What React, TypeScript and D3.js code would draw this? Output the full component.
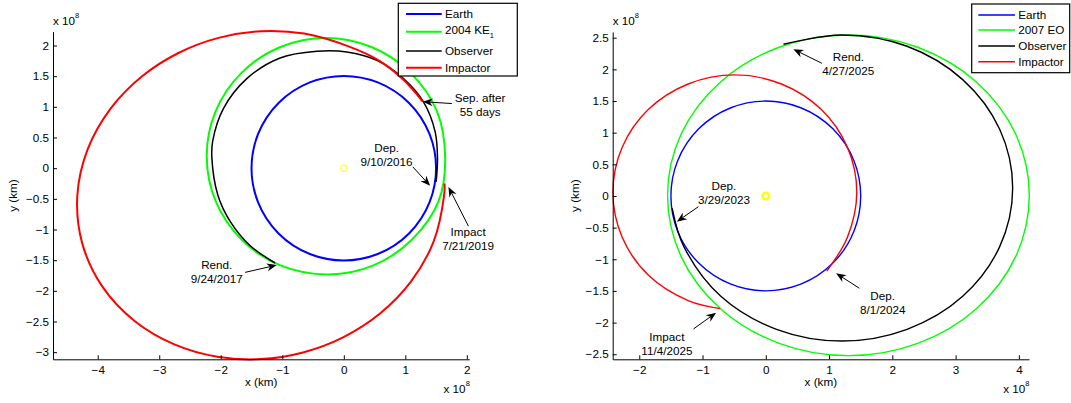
import React, { useEffect, useRef } from 'react';
import * as d3 from 'd3';

type Pt = [number, number];

const FONT = '"Liberation Sans", Arial, Helvetica, sans-serif';
const FS = 11.7;

// all coordinates in units of 1e8 km
const earthRadius = 1.5;
const sun: Pt = [0, 0];

// ---- left panel: 2004 KE1 ----
const ke1Orbit: Pt[] = [
  [1.648, 0.157], [1.512, 0.934], [1.079, 1.558], [0.45, 1.976], [-0.293, 2.123],
  [-1.03, 1.976], [-1.659, 1.558], [-2.081, 0.934], [-2.228, 0.195], [-2.081, -0.543],
  [-1.659, -1.167], [-1.03, -1.585], [-0.249, -1.732], [0.482, -1.585], [1.106, -1.167],
  [1.539, -0.543],
];
const ke1Observer: Pt[] = [
  [1.501, -0.223], [1.523, 0.157], [1.485, 0.592], [1.295, 1.08], [0.97, 1.46],
  [0.537, 1.759], [0.049, 1.895], [-0.439, 1.906], [-1.035, 1.797], [-1.577, 1.46],
  [-1.957, 0.972], [-2.13, 0.45], [-2.145, 0.18], [-2.048, -0.436], [-1.842, -0.876],
  [-1.526, -1.26], [-1.117, -1.546],
];
const ke1Impactor: Pt[] = [
  [1.279, 1.091], [0.97, 1.44], [0.58, 1.75], [0.055, 1.993], [-0.644, 2.194],
  [-1.35, 2.233], [-2.037, 2.124], [-2.688, 1.878], [-3.284, 1.494], [-3.791, 0.97],
  [-4.161, 0.313], [-4.331, -0.44], [-4.254, -1.218], [-3.927, -1.928], [-3.401, -2.491],
  [-2.755, -2.873], [-2.056, -3.074], [-1.35, -3.113], [-0.663, -3.004], [-0.012, -2.758],
  [0.584, -2.374], [1.091, -1.85], [1.461, -1.193], [1.631, -0.44], [1.638, -0.25],
];
const ke1Notes = [
  { lines: ['Sep. after', '55 days'], at: [2.216, 1.14], from: [1.756, 1.054], to: [1.285, 1.083] },
  { lines: ['Dep.', '9/10/2016'], at: [0.696, 0.331], from: [1.122, 0.021], to: [1.403, -0.288] },
  { lines: ['Impact', '7/21/2019'], at: [2.021, -1.037], from: [2.026, -0.945], to: [1.701, -0.305] },
  { lines: ['Rend.', '9/24/2017'], at: [-2.065, -1.58], from: [-1.605, -1.699], to: [-1.089, -1.58] },
];
const ke1Legend = [
  { name: 'Earth', sub: '' },
  { name: '2004 KE', sub: '1' },
  { name: 'Observer', sub: '' },
  { name: 'Impactor', sub: '' },
];
const ke1XTicks = [-4, -3, -2, -1, 0, 1, 2];
const ke1YTicks = [-3, -2.5, -2, -1.5, -1, -0.5, 0, 0.5, 1, 1.5, 2];

// ---- right panel: 2007 EO ----
const eoOrbit: Pt[] = [
  [4.165, 0.011], [3.949, 0.979], [3.328, 1.801], [2.401, 2.349], [1.306, 2.543],
  [0.211, 2.349], [-0.716, 1.801], [-1.338, 0.979], [-1.553, 0.011], [-1.338, -0.958],
  [-0.716, -1.78], [0.211, -2.328], [1.306, -2.522], [2.401, -2.328], [3.328, -1.78],
  [3.949, -0.958],
];
const eoObserver: Pt[] = [
  [-1.48, -0.195], [-1.295, -0.8], [-0.711, -1.585], [0.169, -2.106], [1.201, -2.291],
  [2.233, -2.106], [3.112, -1.585], [3.697, -0.8], [3.902, 0.126], [3.697, 1.053],
  [3.112, 1.838], [2.233, 2.365], [1.201, 2.543], [0.279, 2.396],
];
const eoImpactor: Pt[] = [
  [0.964, -1.185], [1.29, -0.653], [1.438, 0.058], [1.29, 0.769], [0.874, 1.369],
  [0.247, 1.769], [-0.49, 1.912], [-1.227, 1.769], [-1.854, 1.369], [-2.27, 0.769],
  [-2.417, 0.058], [-2.27, -0.653], [-1.854, -1.253], [-1.227, -1.653], [-0.721, -1.78],
];
const eoNotes = [
  { lines: ['Rend.', '4/27/2025'], at: [1.305, 2.191], from: [0.885, 2.096], to: [0.436, 2.318] },
  { lines: ['Dep.', '3/29/2023'], at: [-0.662, 0.153], from: [-1.065, -0.169], to: [-1.406, -0.406] },
  { lines: ['Dep.', '8/1/2024'], at: [1.848, -1.575], from: [1.479, -1.458], to: [1.111, -1.221] },
  { lines: ['Impact', '11/4/2025'], at: [-1.564, -2.227], from: [-1.144, -2.101], to: [-0.785, -1.844] },
];
const eoLegend = [
  { name: 'Earth', sub: '' },
  { name: '2007 EO', sub: '' },
  { name: 'Observer', sub: '' },
  { name: 'Impactor', sub: '' },
];
const eoXTicks = [-2, -1, 0, 1, 2, 3, 4];
const eoYTicks = [-2.5, -2, -1.5, -1, -0.5, 0, 0.5, 1, 1.5, 2, 2.5];

const colors = ['#0000ff', '#00ff00', '#000000', '#ff0000'];

const panels = [
  {
    xDomain: [-4.727, 2.04], xRange: [53, 469.3],
    yDomain: [-3.116, 2.225], yRange: [359.3, 31.7],
    xTicks: ke1XTicks, yTicks: ke1YTicks,
    orbit: ke1Orbit, observer: ke1Observer, impactor: ke1Impactor,
    notes: ke1Notes, legend: ke1Legend, lw: 2, blackW: 1.5, sunR: 3.4, sunW: 1,
    box: { x: 398.3, y: 3.3, w: 119, h: 72.7 }, rows: [14, 31.7, 51, 67.7],
    lineX: [406, 441.7], textX: 445, yLabelX: 17,
  },
  {
    xDomain: [-2.42, 4.16], xRange: [612.7, 1029],
    yDomain: [-2.58, 2.59], yRange: [359.3, 32],
    xTicks: eoXTicks, yTicks: eoYTicks,
    orbit: eoOrbit, observer: eoObserver, impactor: eoImpactor,
    notes: eoNotes, legend: eoLegend, lw: 1.4, blackW: 1.4, sunR: 3.3, sunW: 2.5,
    box: { x: 971.7, y: 4, w: 98, h: 68.7 }, rows: [15, 30, 46, 61.7],
    lineX: [978.3, 1015], textX: 1018.3, yLabelX: 579,
  },
];

// barbed arrow head pointing at t, shaft starting at s (pixel space)
const arrowPath = (s: Pt, t: Pt) => {
  const dx = t[0] - s[0], dy = t[1] - s[1];
  const len = Math.hypot(dx, dy);
  const ux = dx / len, uy = dy / len, nx = -uy, ny = ux;
  const hl = 10, hw = 4, notch = 3;
  const bx = t[0] - ux * hl, by = t[1] - uy * hl;
  const mx = t[0] - ux * (hl - notch), my = t[1] - uy * (hl - notch);
  return {
    line: `M${s[0]},${s[1]}L${mx},${my}`,
    head: `M${t[0]},${t[1]}L${bx + nx * hw},${by + ny * hw}L${mx},${my}L${bx - nx * hw},${by - ny * hw}Z`,
  };
};

const Panel = ({ p }: { p: any }) => {
  const xRef = useRef<SVGGElement>(null);
  const yRef = useRef<SVGGElement>(null);
  const x = d3.scaleLinear().domain(p.xDomain).range(p.xRange);
  const y = d3.scaleLinear().domain(p.yDomain).range(p.yRange);
  const [left, right] = p.xRange;
  const [bottom, top] = p.yRange;

  useEffect(() => {
    const gx = d3.select(xRef.current);
    gx.selectAll('*').remove();
    gx.call(d3.axisBottom(x).tickValues(p.xTicks).tickFormat(d3.format('')).tickSizeInner(-4).tickSizeOuter(0).tickPadding(6) as any);
    gx.attr('font-family', FONT).attr('font-size', FS);

    const gy = d3.select(yRef.current);
    gy.selectAll('*').remove();
    gy.call(d3.axisLeft(y).tickValues(p.yTicks).tickFormat(d3.format('')).tickSizeInner(-4).tickSizeOuter(0).tickPadding(4) as any);
    gy.attr('font-family', FONT).attr('font-size', FS);
  }, [p]);

  const open = d3.line<Pt>().x(d => x(d[0])).y(d => y(d[1])).curve(d3.curveCatmullRom.alpha(0.5));
  const closed = d3.line<Pt>().x(d => x(d[0])).y(d => y(d[1])).curve(d3.curveCatmullRomClosed.alpha(0.5));
  const widths = [p.lw, p.lw, p.blackW, p.lw];

  return (
    <g>
      <circle cx={x(0)} cy={y(0)} r={x(earthRadius) - x(0)} fill="none" stroke={colors[0]} strokeWidth={p.lw} />
      <path d={closed(p.orbit) || ''} fill="none" stroke={colors[1]} strokeWidth={p.lw} />
      <path d={open(p.observer) || ''} fill="none" stroke={colors[2]} strokeWidth={p.blackW} />
      <path d={open(p.impactor) || ''} fill="none" stroke={colors[3]} strokeWidth={p.lw} />
      <circle cx={x(sun[0])} cy={y(sun[1])} r={p.sunR} fill="none" stroke="#ffff00" strokeWidth={p.sunW} />

      <g ref={xRef} transform={`translate(0,${bottom})`} />
      <g ref={yRef} transform={`translate(${left},0)`} />

      <g fontFamily={FONT} fontSize={FS} fill="#000">
        <text x={left} y={25}>x 10<tspan dy={-7} fontSize={7.5}>8</tspan></text>
        <text x={right + 0.5} y={393} textAnchor="end">x 10<tspan dy={-7} fontSize={7.5}>8</tspan></text>
        <text x={(left + right) / 2} y={386} textAnchor="middle">x (km)</text>
        <text transform={`translate(${p.yLabelX},${(top + bottom) / 2}) rotate(-90)`} textAnchor="middle">y (km)</text>

        {p.notes.map((n: any, i: number) => {
          const a = arrowPath([x(n.from[0]), y(n.from[1])], [x(n.to[0]), y(n.to[1])]);
          return (
            <g key={i}>
              {n.lines.map((l: string, j: number) => (
                <text key={j} x={x(n.at[0])} y={y(n.at[1]) + j * 13.8} dy="0.35em" textAnchor="middle">{l}</text>
              ))}
              <path d={a.line} stroke="#000" strokeWidth={1} fill="none" />
              <path d={a.head} fill="#000" stroke="none" />
            </g>
          );
        })}

        <rect x={p.box.x} y={p.box.y} width={p.box.w} height={p.box.h} fill="#fff" stroke="#000" strokeWidth={1.2} />
        {p.legend.map((e: any, i: number) => (
          <g key={i}>
            <line x1={p.lineX[0]} x2={p.lineX[1]} y1={p.rows[i]} y2={p.rows[i]} stroke={colors[i]} strokeWidth={widths[i]} />
            <text x={p.textX} y={p.rows[i] + (e.sub ? 2 : 4)}>
              {e.name}
              {e.sub && <tspan dy={4} fontSize={7.5}>{e.sub}</tspan>}
            </text>
          </g>
        ))}
      </g>
    </g>
  );
};

export default function App() {
  return (
    <svg width={1071} height={403} style={{ position: 'absolute', left: 0, top: 0, background: '#fff' }}>
      {panels.map((p, i) => <Panel key={i} p={p} />)}
    </svg>
  );
}
